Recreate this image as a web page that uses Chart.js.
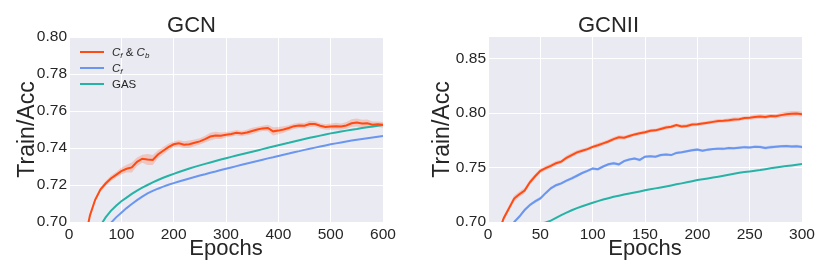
<!DOCTYPE html>
<html>
<head>
<meta charset="utf-8">
<script src="https://cdn.jsdelivr.net/npm/chart.js@4.4.0/dist/chart.umd.min.js"></script>
<style>
  html, body { margin: 0; padding: 0; background: #fff; }
  #wrap { position: relative; width: 830px; height: 277px; }
  canvas { position: absolute; top: 0; }
  #gcn { left: 0; }
  #gcnii { left: 415px; }
</style>
</head>
<body>
<div id="wrap">
  <canvas id="gcn" width="415" height="277"></canvas>
  <canvas id="gcnii" width="415" height="277"></canvas>
</div>
<script>
// ---- GCN panel (epochs every 10) ----
const gcnEpochs = [0,10,20,30,40,50,60,70,80,90,100,110,120,130,140,150,160,170,180,190,200,
  210,220,230,240,250,260,270,280,290,300,310,320,330,340,350,360,370,380,390,400,
  410,420,430,440,450,460,470,480,490,500,510,520,530,540,550,560,570,580,590,600];
const gcnCfCb = [0.600,0.640,0.668,0.690,0.7035,0.7120,0.7175,0.7208,0.7235,0.7255,
  0.7275,0.7288,0.7295,0.7325,0.7342,0.7338,0.7335,0.7365,0.7385,0.7405,
  0.7420,0.7425,0.7418,0.7420,0.7428,0.7436,0.7448,0.7462,0.7468,0.7466,
  0.7472,0.7476,0.7482,0.7478,0.7484,0.7492,0.7500,0.7506,0.7508,0.7490,
  0.7494,0.7500,0.7508,0.7518,0.7522,0.7520,0.7530,0.7530,0.7520,0.7514,
  0.7516,0.7518,0.7516,0.7522,0.7534,0.7538,0.7532,0.7534,0.7526,0.7528,0.7525];
const gcnCfCbStd = [0.0015,0.0015,0.0015,0.0015,0.0015,0.0012,0.0012,0.0013,0.0015,0.0015,
  0.0018,0.0021,0.0027,0.0024,0.0022,0.0030,0.0027,0.0022,0.0020,0.0018,
  0.0015,0.0017,0.0018,0.0020,0.0018,0.0017,0.0018,0.0021,0.0020,0.0018,
  0.0015,0.0014,0.0015,0.0014,0.0015,0.0017,0.0015,0.0014,0.0018,0.0022,
  0.0020,0.0017,0.0015,0.0015,0.0014,0.0015,0.0017,0.0015,0.0014,0.0015,
  0.0017,0.0018,0.0017,0.0018,0.0021,0.0022,0.0021,0.0020,0.0017,0.0015,0.0015];
const gcnCf = [0.600,0.630,0.650,0.665,0.676,0.685,0.692,0.6965,0.6995,0.7025,
  0.7050,0.7075,0.7097,0.7118,0.7137,0.7155,0.7168,0.7180,0.7191,0.7201,
  0.7210,0.7219,0.7227,0.7235,0.7243,0.7251,0.7258,0.7266,0.7273,0.7281,
  0.7288,0.7295,0.7302,0.7309,0.7316,0.7323,0.7330,0.7337,0.7344,0.7350,
  0.7357,0.7364,0.7370,0.7377,0.7383,0.7390,0.7396,0.7402,0.7408,0.7414,
  0.7420,0.7425,0.7430,0.7435,0.7440,0.7445,0.7449,0.7453,0.7457,0.7461,0.7465];
const gcnGas = [0.620,0.645,0.662,0.675,0.685,0.692,0.698,0.7025,0.7060,0.7088,
  0.7112,0.7132,0.7152,0.7170,0.7186,0.7200,0.7214,0.7227,0.7239,0.7250,
  0.7260,0.7270,0.7280,0.7289,0.7298,0.7306,0.7314,0.7322,0.7330,0.7338,
  0.7345,0.7352,0.7359,0.7366,0.7373,0.7380,0.7387,0.7394,0.7401,0.7408,
  0.7415,0.7422,0.7428,0.7435,0.7442,0.7449,0.7455,0.7461,0.7467,0.7473,
  0.7479,0.7484,0.7489,0.7494,0.7499,0.7503,0.7508,0.7512,0.7516,0.7520,0.7524];
const gcnXTicks = [0,100,200,300,400,500,600];
const gcnYTicks = [0.70,0.72,0.74,0.76,0.78,0.80];

// ---- GCNII panel (epochs every 5) ----
const giiEpochs = [0,5,10,15,20,25,30,35,40,45,50,55,60,65,70,75,80,85,90,95,100,
  105,110,115,120,125,130,135,140,145,150,155,160,165,170,175,180,185,190,195,200,
  205,210,215,220,225,230,235,240,245,250,255,260,265,270,275,280,285,290,295,300];
const giiCfCb = [0.640,0.672,0.690,0.7035,0.7125,0.7215,0.7255,0.7290,0.7365,0.7420,
  0.7470,0.7495,0.7515,0.7540,0.7555,0.7590,0.7615,0.7640,0.7655,0.7670,
  0.7690,0.7705,0.7722,0.7740,0.7762,0.7778,0.7775,0.7790,0.7805,0.7815,
  0.7825,0.7838,0.7842,0.7855,0.7868,0.7875,0.7890,0.7878,0.7882,0.7895,
  0.7898,0.7905,0.7912,0.7920,0.7928,0.7930,0.7935,0.7942,0.7945,0.7955,
  0.7958,0.7965,0.7970,0.7965,0.7975,0.7972,0.7982,0.7990,0.7995,0.7998,0.7990];
const giiCfCbStd = [0.0020,0.0020,0.0021,0.0023,0.0026,0.0028,0.0026,0.0025,0.0023,0.0022,
  0.0021,0.0020,0.0021,0.0020,0.0018,0.0020,0.0021,0.0020,0.0018,0.0017,
  0.0018,0.0020,0.0018,0.0017,0.0018,0.0020,0.0018,0.0017,0.0016,0.0017,
  0.0018,0.0017,0.0016,0.0017,0.0018,0.0017,0.0016,0.0017,0.0018,0.0017,
  0.0016,0.0017,0.0016,0.0017,0.0018,0.0017,0.0018,0.0020,0.0018,0.0017,
  0.0018,0.0020,0.0021,0.0020,0.0018,0.0020,0.0021,0.0023,0.0025,0.0023,0.0022];
const giiCf = [0.620,0.650,0.668,0.682,0.692,0.7000,0.7050,0.7110,0.7156,0.7190,
  0.7217,0.7265,0.7310,0.7338,0.7355,0.7380,0.7401,0.7425,0.7450,0.7470,
  0.7492,0.7485,0.7510,0.7530,0.7540,0.7530,0.7560,0.7575,0.7584,0.7570,
  0.7600,0.7605,0.7600,0.7615,0.7620,0.7615,0.7635,0.7640,0.7650,0.7660,
  0.7665,0.7655,0.7665,0.7670,0.7674,0.7672,0.7680,0.7678,0.7683,0.7688,
  0.7685,0.7692,0.7690,0.7680,0.7688,0.7692,0.7695,0.7698,0.7693,0.7696,0.7690];
const giiCfStd = [0.0012,0.0012,0.0013,0.0014,0.0014,0.0015,0.0014,0.0013,0.0014,0.0015,
  0.0014,0.0013,0.0014,0.0013,0.0012,0.0013,0.0014,0.0013,0.0012,0.0013,
  0.0014,0.0013,0.0012,0.0013,0.0014,0.0013,0.0012,0.0011,0.0012,0.0013,
  0.0012,0.0011,0.0012,0.0013,0.0012,0.0011,0.0012,0.0011,0.0012,0.0013,
  0.0012,0.0011,0.0012,0.0011,0.0012,0.0013,0.0012,0.0011,0.0012,0.0013,
  0.0012,0.0011,0.0012,0.0013,0.0014,0.0013,0.0012,0.0013,0.0014,0.0013,0.0012];
const giiGas = [0.600,0.625,0.642,0.655,0.666,0.675,0.682,0.688,0.6925,0.6960,
  0.6985,0.6995,0.7012,0.7038,0.7063,0.7086,0.7108,0.7127,0.7145,0.7161,
  0.7177,0.7192,0.7206,0.7219,0.7232,0.7242,0.7252,0.7262,0.7272,0.7281,
  0.7291,0.7300,0.7309,0.7318,0.7327,0.7336,0.7346,0.7355,0.7365,0.7375,
  0.7385,0.7393,0.7400,0.7408,0.7416,0.7425,0.7434,0.7443,0.7453,0.7459,
  0.7465,0.7471,0.7477,0.7485,0.7493,0.7500,0.7508,0.7514,0.7520,0.7526,0.7532];
const giiXTicks = [0,50,100,150,200,250,300];
const giiYTicks = [0.70,0.75,0.80,0.85];

const ORANGE = '#FF4A12';
const BLUE = '#6A96F0';
const TEAL = '#26B3A6';
const FONT = '"Liberation Sans", Arial, sans-serif';
const TEXT = '#262626';

function pts(xs, ys) { return xs.map((x, i) => ({ x: x, y: ys[i] })); }

function lineSet(xs, ys, color) {
  return { data: pts(xs, ys), borderColor: color, borderWidth: 2, pointRadius: 0, fill: false, clip: 0 };
}

function bandSets(xs, ys, sd, fillColor) {
  const hi = ys.map((v, i) => v + sd[i]);
  const lo = ys.map((v, i) => v - sd[i]);
  return [
    { data: pts(xs, hi), borderWidth: 0, borderColor: 'rgba(0,0,0,0)', pointRadius: 0, fill: false, clip: 0 },
    { data: pts(xs, lo), borderWidth: 0, borderColor: 'rgba(0,0,0,0)', pointRadius: 0, fill: '-1', backgroundColor: fillColor, clip: 0 }
  ];
}

const plotBg = {
  id: 'plotBg',
  beforeDraw(chart) {
    const { ctx, chartArea: a } = chart;
    ctx.save();
    ctx.fillStyle = '#EAEAF2';
    ctx.fillRect(a.left, a.top, a.right - a.left, a.bottom - a.top);
    ctx.restore();
  }
};

// legend with italic subscripts, drawn by hand
const subLegend = {
  id: 'subLegend',
  afterDatasetsDraw(chart) {
    const ctx = chart.ctx;
    const items = [
      { color: ORANGE, parts: [['C', 'f'], [' & '], ['C', 'b']] },
      { color: BLUE, parts: [['C', 'f']] },
      { color: TEAL, parts: [['GAS']] }
    ];
    ctx.save();
    items.forEach((it, k) => {
      const y = 52 + k * 16;
      ctx.strokeStyle = it.color;
      ctx.lineWidth = 2;
      ctx.beginPath();
      ctx.moveTo(80, y);
      ctx.lineTo(104, y);
      ctx.stroke();
      let x = 112;
      ctx.fillStyle = TEXT;
      ctx.textBaseline = 'middle';
      it.parts.forEach(p => {
        if (p.length === 2) {
          ctx.font = 'italic 11.5px ' + FONT;
          ctx.fillText(p[0], x, y + 1);
          x += ctx.measureText(p[0]).width;
          ctx.font = 'italic 8px ' + FONT;
          ctx.fillText(p[1], x, y + 4);
          x += ctx.measureText(p[1]).width;
        } else {
          ctx.font = '11.5px ' + FONT;
          ctx.fillText(p[0], x, y + 1);
          x += ctx.measureText(p[0]).width;
        }
      });
    });
    ctx.restore();
  }
};

function makeChart(id, cfg) {
  const plugins = [plotBg];
  if (cfg.legend) plugins.push(subLegend);
  return new Chart(document.getElementById(id), {
    type: 'line',
    data: { datasets: cfg.datasets },
    plugins: plugins,
    options: {
      responsive: false,
      animation: false,
      devicePixelRatio: 1,
      layout: { padding: { left: 0, right: cfg.rightPad, top: 0, bottom: 0 } },
      plugins: {
        legend: { display: false },
        tooltip: { enabled: false },
        title: {
          display: true, text: cfg.title, color: TEXT,
          font: { family: FONT, size: 22, weight: 'normal', lineHeight: 1 },
          padding: { top: 15, bottom: 0 }
        }
      },
      scales: {
        x: {
          type: 'linear', min: cfg.xMin, max: cfg.xMax,
          afterBuildTicks: ax => { ax.ticks = cfg.xTicks.map(v => ({ value: v })); },
          afterFit: ax => { ax.height = 55; },
          grid: { color: '#FFFFFF', lineWidth: 1, drawTicks: false },
          border: { display: false },
          ticks: { color: TEXT, font: { family: FONT, size: 15.5 }, padding: 3, maxRotation: 0 },
          title: { display: true, text: 'Epochs', color: TEXT, font: { family: FONT, size: 22, lineHeight: 1 }, padding: { top: 0, bottom: 17 } }
        },
        y: {
          min: cfg.yMin, max: cfg.yMax,
          afterBuildTicks: ax => { ax.ticks = cfg.yTicks.map(v => ({ value: v })); },
          afterFit: ax => { ax.width = cfg.yWidth; },
          grid: { color: '#FFFFFF', lineWidth: 1, drawTicks: false },
          border: { display: false },
          ticks: { color: TEXT, font: { family: FONT, size: 15.5 }, padding: 2, callback: v => v.toFixed(2) },
          title: { display: true, text: 'Train/Acc', color: TEXT, font: { family: FONT, size: 23, lineHeight: 1 }, padding: { top: 16, bottom: 0 } }
        }
      }
    }
  });
}

makeChart('gcn', {
  title: 'GCN', legend: true, rightPad: 32, yWidth: 69,
  xMin: 0, xMax: 600, xTicks: gcnXTicks,
  yMin: 0.70, yMax: 0.80, yTicks: gcnYTicks,
  datasets: [
    lineSet(gcnEpochs, gcnCfCb, ORANGE),
    lineSet(gcnEpochs, gcnCf, BLUE),
    lineSet(gcnEpochs, gcnGas, TEAL),
    ...bandSets(gcnEpochs, gcnCfCb, gcnCfCbStd, 'rgba(255,74,18,0.22)')
  ]
});

makeChart('gcnii', {
  title: 'GCNII', legend: false, rightPad: 28, yWidth: 73,
  xMin: 0, xMax: 300, xTicks: giiXTicks,
  yMin: 0.70, yMax: 0.87, yTicks: giiYTicks,
  datasets: [
    lineSet(giiEpochs, giiCfCb, ORANGE),
    lineSet(giiEpochs, giiCf, BLUE),
    lineSet(giiEpochs, giiGas, TEAL),
    ...bandSets(giiEpochs, giiCfCb, giiCfCbStd, 'rgba(255,74,18,0.22)'),
    ...bandSets(giiEpochs, giiCf, giiCfStd, 'rgba(106,150,240,0.3)')
  ]
});
</script>
</body>
</html>
